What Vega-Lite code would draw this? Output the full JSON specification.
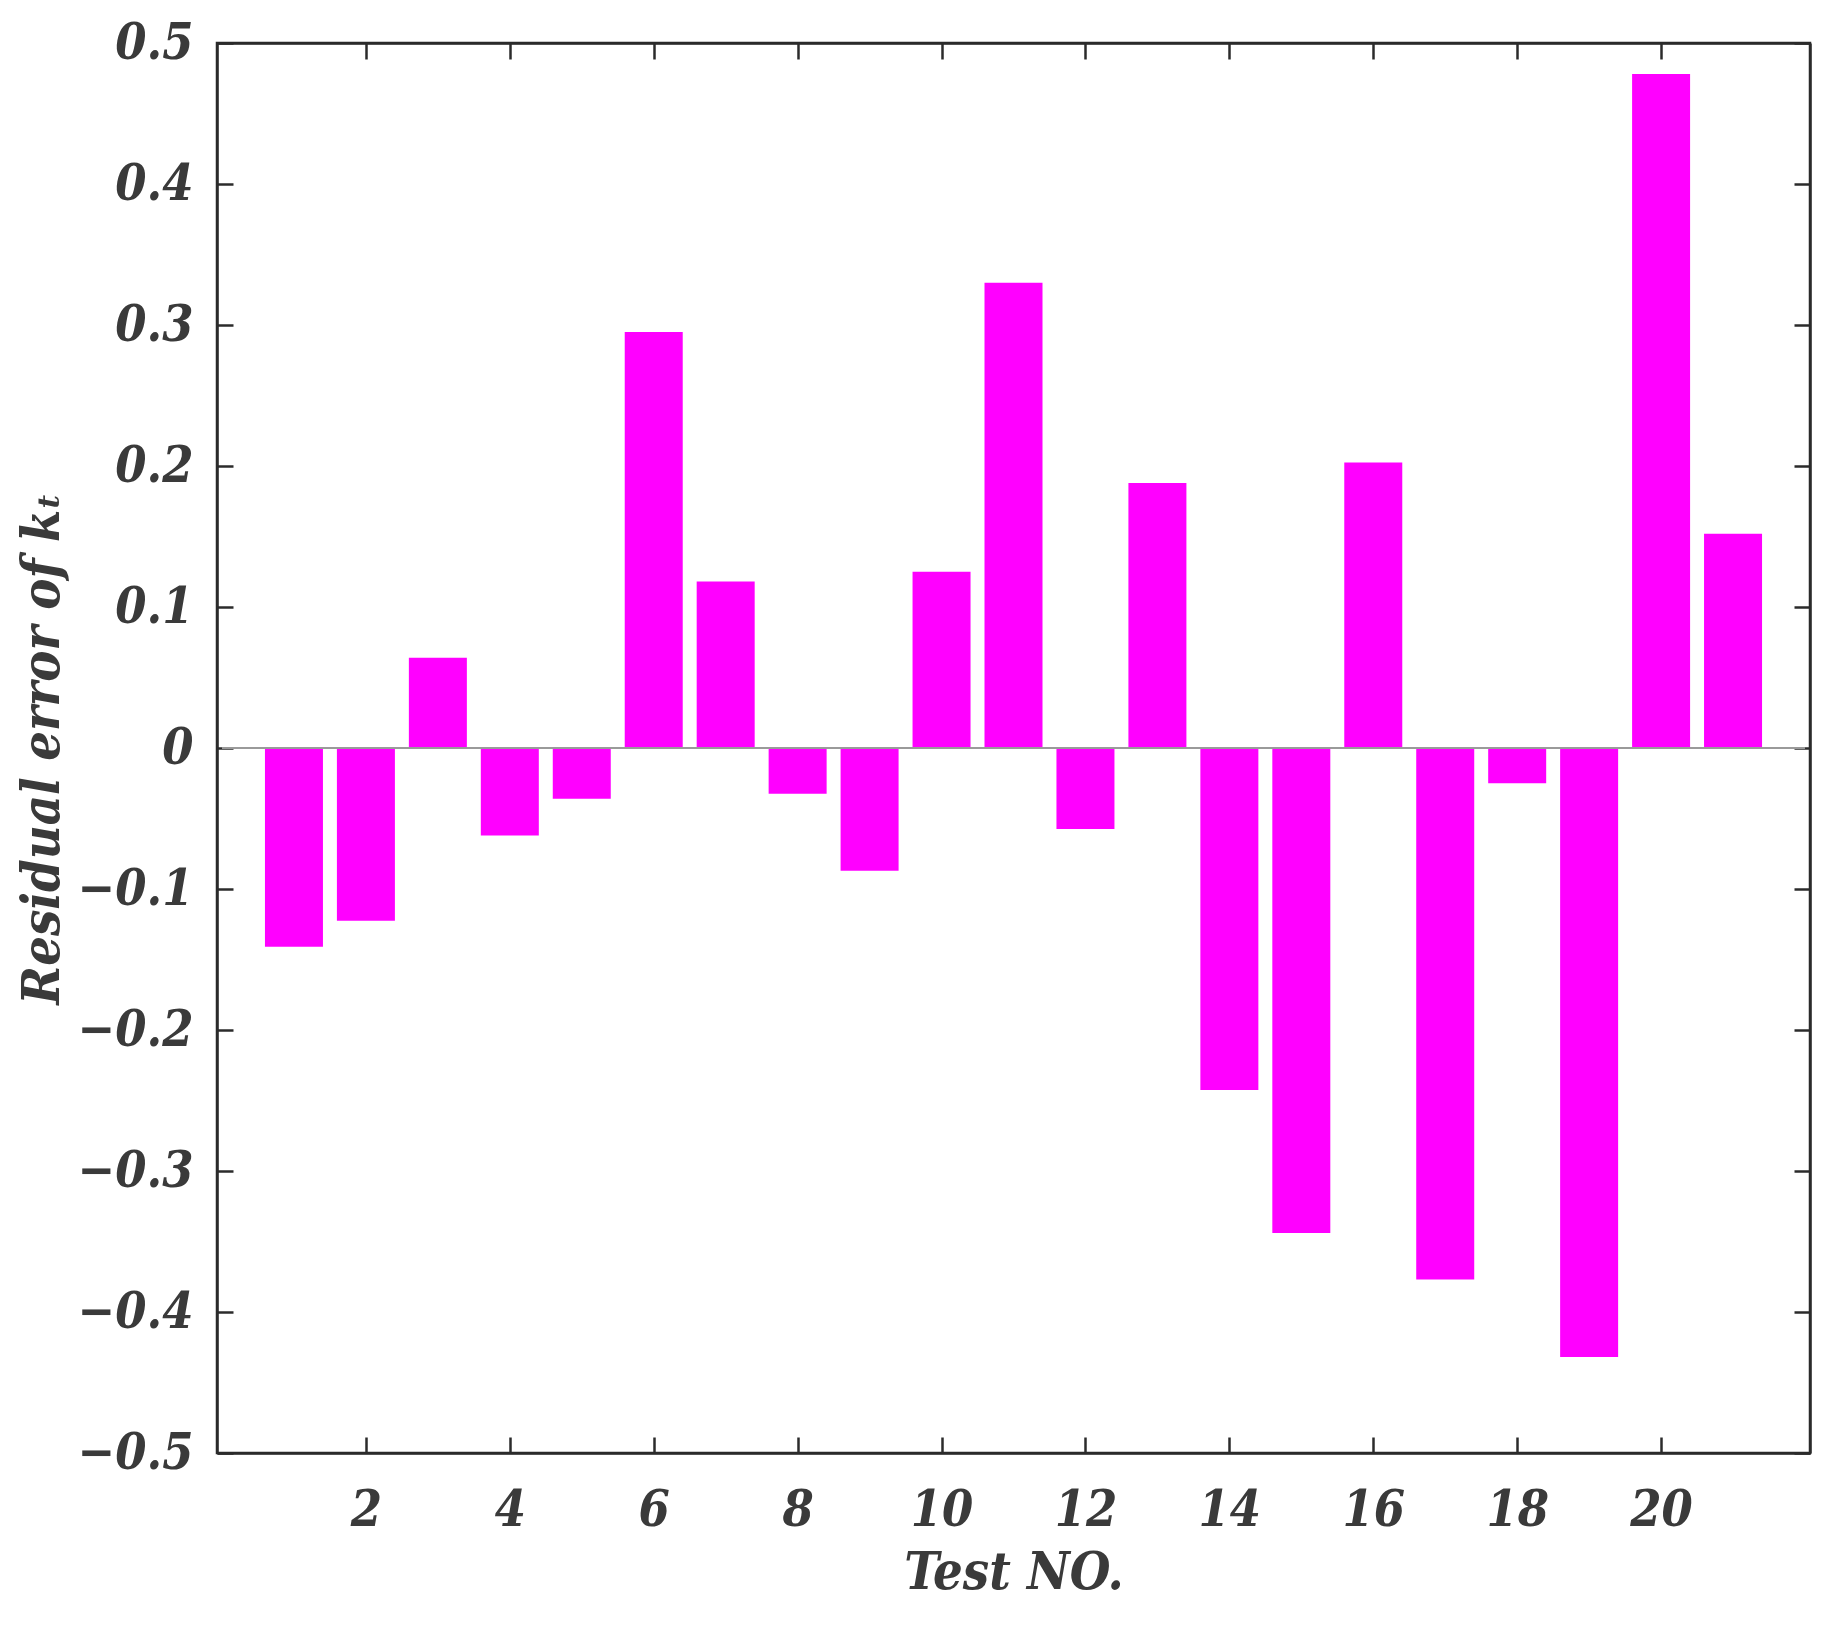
{
  "$schema": "https://vega.github.io/schema/vega-lite/v6.json",
  "width": 1593,
  "height": 1410,
  "autosize": {"type": "none"},
  "padding": {"left": 217, "top": 43, "right": 30, "bottom": 175},
  "background": "white",
  "config": {
    "view": {"stroke": "#2b2b2b", "strokeWidth": 2.5},
    "axis": {
      "labelFont": "DejaVu Serif Condensed",
      "labelFontStyle": "italic",
      "labelFontWeight": "bold",
      "labelFontSize": 50,
      "labelColor": "#3a3a3a",
      "titleFont": "DejaVu Serif Condensed",
      "titleFontStyle": "italic",
      "titleFontWeight": "bold",
      "titleFontSize": 52,
      "titleColor": "#3a3a3a",
      "domainColor": "#2b2b2b",
      "domainWidth": 2.5,
      "tickColor": "#2b2b2b",
      "tickWidth": 2.5,
      "tickSize": -16,
      "grid": false
    }
  },
  "data": {
    "values": [
      {"test": 1, "residual": -0.141},
      {"test": 2, "residual": -0.1225},
      {"test": 3, "residual": 0.064},
      {"test": 4, "residual": -0.062},
      {"test": 5, "residual": -0.036},
      {"test": 6, "residual": 0.295},
      {"test": 7, "residual": 0.118},
      {"test": 8, "residual": -0.0325},
      {"test": 9, "residual": -0.087},
      {"test": 10, "residual": 0.125},
      {"test": 11, "residual": 0.33},
      {"test": 12, "residual": -0.0575},
      {"test": 13, "residual": 0.188},
      {"test": 14, "residual": -0.2425},
      {"test": 15, "residual": -0.344},
      {"test": 16, "residual": 0.2025},
      {"test": 17, "residual": -0.377},
      {"test": 18, "residual": -0.025},
      {"test": 19, "residual": -0.432},
      {"test": 20, "residual": 0.478},
      {"test": 21, "residual": 0.152}
    ]
  },
  "layer": [
    {
      "mark": {"type": "bar", "size": 58, "color": "#ff00ff", "orient": "vertical"},
      "encoding": {
        "x": {
          "field": "test",
          "type": "quantitative",
          "scale": {"domain": [0, 22], "nice": false, "zero": false},
          "axis": {
            "title": "Test NO.",
            "values": [2, 4, 6, 8, 10, 12, 14, 16, 18, 20],
            "labelPadding": 48,
            "titlePadding": 12,
            "format": "d"
          }
        },
        "y": {
          "field": "residual",
          "type": "quantitative",
          "scale": {"domain": [-0.5, 0.5], "nice": false},
          "axis": {
            "title": "Residual error of kₜ",
            "values": [-0.5, -0.4, -0.3, -0.2, -0.1, 0, 0.1, 0.2, 0.3, 0.4, 0.5],
            "labelPadding": 40,
            "titlePadding": 8,
            "labelExpr": "datum.value == 0 ? '0' : replace(format(datum.value, '.1f'), '-', '\u2013')"
          }
        }
      }
    },
    {
      "mark": {"type": "rule", "color": "#9a9a9a", "strokeWidth": 1.5},
      "encoding": {
        "y": {
          "datum": 0,
          "type": "quantitative",
          "axis": {
            "orient": "right",
            "title": null,
            "labels": false,
            "values": [-0.5, -0.4, -0.3, -0.2, -0.1, 0, 0.1, 0.2, 0.3, 0.4, 0.5]
          }
        },
        "x": {
          "datum": 0,
          "type": "quantitative",
          "axis": {
            "orient": "top",
            "title": null,
            "labels": false,
            "values": [2, 4, 6, 8, 10, 12, 14, 16, 18, 20]
          }
        },
        "x2": {"datum": 22}
      }
    }
  ],
  "resolve": {"axis": {"x": "independent", "y": "independent"}}
}
